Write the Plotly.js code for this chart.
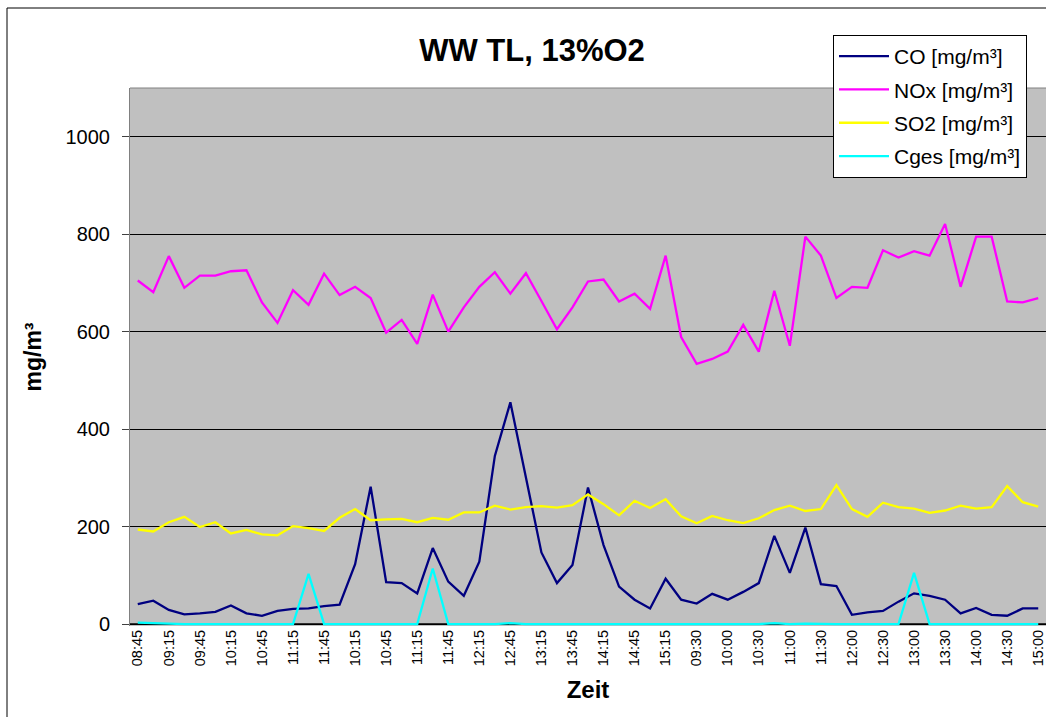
<!DOCTYPE html>
<html>
<head>
<meta charset="utf-8">
<script src="https://cdn.plot.ly/plotly-3.0.1.min.js"></script>
<style>
html,body{margin:0;padding:0;background:#fff;}
#chart{width:1046px;height:717px;}
</style>
</head>
<body>
<div id="chart"></div>
<script>
// Tick labels (every second measurement is labelled)
const tickLabels = ["08:45","09:15","09:45","10:15","10:45","11:15","11:45","10:15","10:45","11:15","11:45","12:15","12:45","13:15","13:45","14:15","14:45","15:15","09:30","10:00","10:30","11:00","11:30","12:00","12:30","13:00","13:30","14:00","14:30","15:00"];

const co = [41,48,29,20,22,25,38,22,17,27,31,32,37,40,123,282,86,84,63,156,87,58,128,345,455,300,147,84,121,280,162,77,50,32,93,50,42,62,50,66,84,181,105,198,82,78,19,24,27,46,63,58,50,22,33,19,17,32,32];
const nox = [705,681,755,690,715,715,724,726,660,618,685,655,719,675,692,669,598,624,575,676,600,650,692,722,678,720,663,605,650,703,707,662,678,647,756,589,534,544,559,614,559,684,571,795,756,669,692,690,767,752,765,756,821,692,795,795,662,660,669];
const so2 = [194,190,209,220,199,209,186,193,184,182,201,197,191,218,236,213,215,216,209,218,214,229,229,243,235,240,242,239,244,266,246,223,253,238,256,221,207,222,213,207,217,234,243,232,236,285,236,220,249,240,237,228,233,243,237,240,283,250,241];
const cges = [3,2,0,0,0,0,0,0,0,0,0,103,0,0,0,0,0,0,0,114,0,0,0,0,2,0,0,0,0,0,0,0,0,0,0,0,0,0,0,0,0,2,0,1,0,0,0,0,0,0,105,0,0,0,0,0,0,0,0];

const seriesNames = ["CO [mg/m³]","NOx [mg/m³]","SO2 [mg/m³]","Cges [mg/m³]"];
const seriesColors = ["#000080","#FF00FF","#FFFF00","#00FFFF"];
const seriesData = [co, nox, so2, cges];

const idx = co.map((_, i) => i);
const tickVals = tickLabels.map((_, i) => i * 2);

const traces = seriesData.map((d, k) => ({
  x: idx, y: d, type: 'scatter', mode: 'lines', name: seriesNames[k],
  legendgroup: 'g' + k,
  line: {color: seriesColors[k], width: 2.3}
}));

const W = 1046, H = 717, L = 130, R = 0, T = 88, B = 91;
const pw = W - L - R, ph = H - T - B;

const layout = {
  width: W, height: H,
  margin: {l: L, r: R, t: T, b: B, pad: 0},
  paper_bgcolor: '#ffffff',
  plot_bgcolor: '#C0C0C0',
  font: {family: 'Liberation Sans, Arial, sans-serif', color: '#000'},
  title: {text: '<b>WW TL, 13%O2</b>', font: {size: 31, color: '#000'}, x: 532/W, xanchor: 'center', y: 1 - 50/H, yanchor: 'middle', xref: 'container', yref: 'container'},
  xaxis: {
    range: [-0.5, co.length - 0.5],
    tickvals: tickVals, ticktext: tickLabels, tickangle: -90,
    tickfont: {size: 14.5}, showgrid: false, zeroline: false,
    showline: false, ticks: '',
    title: {text: '<b>Zeit</b>', font: {size: 24}, standoff: 16}
  },
  yaxis: {
    range: [-4, 1100], tickvals: [0,200,400,600,800,1000],
    tickfont: {size: 20}, showgrid: true, gridcolor: '#000', gridwidth: 1,
    zeroline: false, showline: true, linecolor: '#808080', linewidth: 1,
    ticks: 'outside', ticklen: 7, tickcolor: '#404040', ticklabelstandoff: 8,
    title: {text: '<b>mg/m³</b>', font: {size: 23}, standoff: 17}
  },
  showlegend: true,
  legend: {
    x: (833 - L) / pw, y: (H - B - 35) / ph, xanchor: 'left', yanchor: 'top',
    bgcolor: '#ffffff', bordercolor: '#000', borderwidth: 1,
    font: {size: 21}, tracegroupgap: 3, itemwidth: 50, traceorder: 'grouped'
  },
  shapes: [
    {type: 'rect', xref: 'paper', yref: 'paper', x0: (7 - L)/pw, x1: 1.02, y0: -0.3, y1: (H - B - 8)/ph, line: {color: '#000', width: 1}, fillcolor: 'rgba(0,0,0,0)', layer: 'below'},
    {type: 'line', xref: 'paper', yref: 'paper', x0: 0, x1: 1, y0: 1, y1: 1, line: {color: '#808080', width: 1}},
    {type: 'line', xref: 'paper', yref: 'y', x0: 0, x1: 1, y0: 0, y1: 0, line: {color: '#000', width: 1.5}, layer: 'between'}
  ]
};

Plotly.newPlot('chart', traces, layout, {displayModeBar: false, staticPlot: true});
</script>
</body>
</html>
